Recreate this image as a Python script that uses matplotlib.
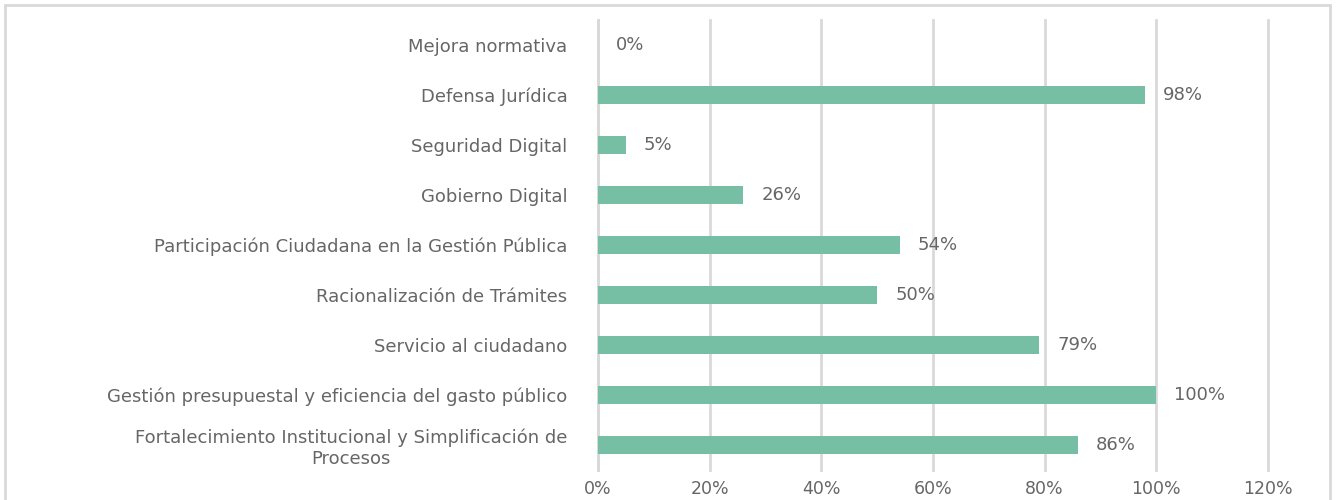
import matplotlib
matplotlib.use("Agg")
import matplotlib.pyplot as plt
from matplotlib.patches import Rectangle
from matplotlib.ticker import FuncFormatter

# Data (top to bottom as shown)
categories = [
    "Mejora normativa",
    "Defensa Jurídica",
    "Seguridad Digital",
    "Gobierno Digital",
    "Participación Ciudadana en la Gestión Pública",
    "Racionalización de Trámites",
    "Servicio al ciudadano",
    "Gestión presupuestal y eficiencia del gasto público",
    "Fortalecimiento Institucional y Simplificación de\nProcesos",
]
values = [0.00, 0.98, 0.05, 0.26, 0.54, 0.50, 0.79, 1.00, 0.86]
x_ticks = [0, 0.2, 0.4, 0.6, 0.8, 1.0, 1.2]

bar_color = "#76BFA5"
text_color = "#666666"
grid_color = "#D9D9D9"

plt.rcParams["font.family"] = ["DejaVu Sans"]

fig = plt.figure(figsize=(13.36, 5.0), dpi=100)
ax = fig.add_axes([598 / 1336, 30 / 500, (1268 - 598) / 1336, 450 / 500])

ypos = list(range(len(categories)))
ax.barh(ypos, values, height=0.36, color=bar_color, zorder=3)

for y, v in zip(ypos, values):
    ax.annotate(f"{v*100:.0f}%", (v, y), xytext=(13, 0), textcoords="offset points",
                va="center", ha="left", fontsize=13, color=text_color)

ax.set_xlim(0, 1.2)
ax.set_ylim(len(categories) - 0.5, -0.5)
ax.set_xticks(x_ticks)
ax.xaxis.set_major_formatter(FuncFormatter(lambda x, _: f"{x*100:.0f}%"))
ax.set_yticks(ypos)
ax.set_yticklabels(categories, multialignment="center")

ax.grid(axis="x", color=grid_color, linewidth=2, zorder=0)
for gl in ax.get_xgridlines():
    gl.set_clip_on(False)
for s in ax.spines.values():
    s.set_visible(False)
ax.axvline(0, color=grid_color, linewidth=2, zorder=1, clip_on=False)

ax.tick_params(axis="both", length=0, colors=text_color, labelsize=13)
ax.tick_params(axis="x", labelsize=12.5, pad=7)
ax.tick_params(axis="y", pad=22)

fig.patches.append(Rectangle((5 / 1336, -0.05), 1325 / 1336, 0.05 + 495 / 500,
                             transform=fig.transFigure, fill=False,
                             edgecolor="#D9D9D9", linewidth=2))

fig.savefig("out.png", dpi=100)
